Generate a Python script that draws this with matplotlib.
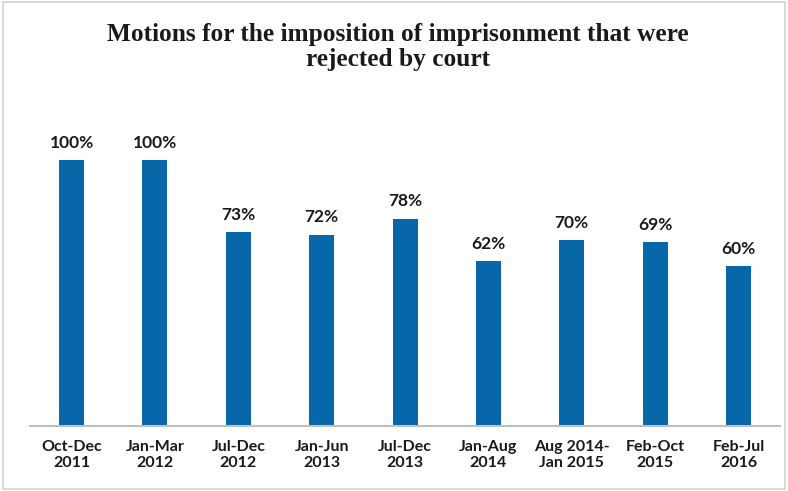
import matplotlib.pyplot as plt
from matplotlib.patches import Rectangle

periods = ['Oct-Dec\n2011', 'Jan-Mar\n2012', 'Jul-Dec\n2012', 'Jan-Jun\n2013', 'Jul-Dec\n2013',
           'Jan-Aug\n2014', 'Aug 2014-\nJan 2015', 'Feb-Oct\n2015', 'Feb-Jul\n2016']
rejected = [100, 100, 73, 72, 78, 62, 70, 69, 60]

bar_color = '#0767a9'
text_color = '#1a1a1a'

fig = plt.figure(figsize=(7.88, 4.91), dpi=100)
ax = fig.add_axes([0.038, 0.1324, 0.952, 0.65])

x = range(len(rejected))
ax.bar(x, rejected, width=0.3, color=bar_color)
for i, v in zip(x, rejected):
    ax.text(i, v + 3.5, f'{v}%', ha='center', va='bottom', fontsize=12.5,
            fontweight='bold', family='Lato', color=text_color)

ax.set_xlim(-0.5, len(rejected) - 0.5)
ax.set_ylim(0, 120)
ax.set_yticks([])
ax.set_xticks(list(x))
ax.set_xticklabels(periods, fontsize=11.5, fontweight='bold', family='Lato',
                   color=text_color, linespacing=1.15)
ax.tick_params(axis='x', length=0, pad=10)
for s in ['top', 'right', 'left']:
    ax.spines[s].set_visible(False)
ax.spines['bottom'].set_color('#bfbfbf')
ax.spines['bottom'].set_linewidth(1.5)

fig.text(0.505, 0.905, 'Motions for the imposition of imprisonment that were\nrejected by court',
         ha='center', va='center', fontsize=18.3, fontweight='bold', family='Liberation Serif',
         color=text_color, linespacing=1.1)

fig.patches.append(Rectangle((0.004, 0.004), 0.992, 0.992, transform=fig.transFigure,
                             fill=False, edgecolor='#d9d9d9', linewidth=1.5))

fig.savefig('out.png', dpi=100)
